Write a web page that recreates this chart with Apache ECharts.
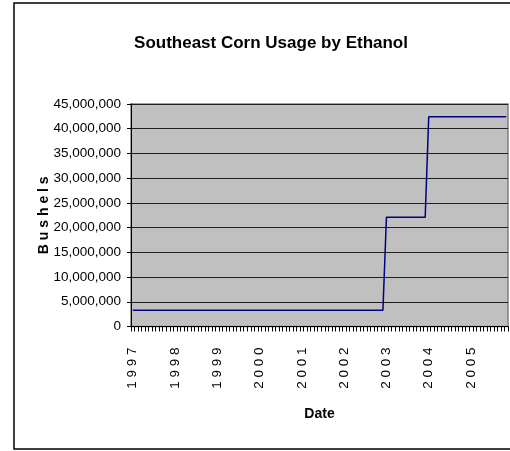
<!DOCTYPE html>
<html>
<head>
<meta charset="utf-8">
<script src="https://cdn.jsdelivr.net/npm/echarts@6/dist/echarts.min.js"></script>
<style>
html,body{margin:0;padding:0;background:#fff;}
#chart{width:510px;height:451px;}
</style>
</head>
<body>
<div id="chart"></div>
<script>
// Annual ethanol corn usage (bushels), shown as a monthly category axis
const years = [1997, 1998, 1999, 2000, 2001, 2002, 2003, 2004, 2005];
const annualUsage = [3300000, 3300000, 3300000, 3300000, 3300000, 3300000, 22100000, 42400000, 42400000];
const monthsShown = 107; // Jan 1997 .. Nov 2005 visible
const yTicks = [0, 5000000, 10000000, 15000000, 20000000, 25000000, 30000000, 35000000, 40000000, 45000000];

const categories = [];
const values = [];
for (let i = 0; i < years.length; i++) {
  for (let m = 1; m <= 12; m++) {
    if (categories.length >= monthsShown) break;
    categories.push(years[i] + '-' + (m < 10 ? '0' + m : m));
    values.push(annualUsage[i]);
  }
}

function fmt(v) {
  return String(v).replace(/\B(?=(\d{3})+(?!\d))/g, ',');
}

const FONT = "'Liberation Sans', Arial, sans-serif";
const chart = echarts.init(document.getElementById('chart'), null, {renderer: 'canvas'});
chart.setOption({
  animation: false,
  backgroundColor: '#ffffff',
  title: {
    text: 'Southeast Corn Usage by Ethanol',
    left: 266, top: 30, textAlign: 'center',
    textStyle: {fontFamily: FONT, fontSize: 17, fontWeight: 'bold', color: '#000'}
  },
  graphic: [{
    type: 'rect', silent: true, z: -1,
    shape: {x: 14, y: 3, width: 620, height: 446},
    style: {fill: null, stroke: '#000', lineWidth: 1.5}
  }],
  grid: {
    left: 131, top: 104, width: 377, height: 222.5,
    show: true, backgroundColor: '#C0C0C0', borderColor: '#808080', borderWidth: 1.5
  },
  xAxis: {
    type: 'category',
    data: categories,
    boundaryGap: true,
    name: 'Date',
    nameLocation: 'middle',
    nameGap: 81,
    nameMoveOverlap: false,
    nameTextStyle: {fontFamily: FONT, fontSize: 14, fontWeight: 'bold', color: '#000'},
    axisLine: {show: true, lineStyle: {color: '#000', width: 1}},
    axisTick: {show: true, interval: 0, length: 5, lineStyle: {color: '#000'}},
    axisLabel: {
      interval: function (idx) { return idx % 12 === 0; },
      rotate: 90, margin: 21,
      fontFamily: FONT, fontSize: 13.5, color: '#000',
      formatter: function (v) { return v.slice(0, 4).split('').join(' '); }
    },
    splitLine: {show: false}
  },
  yAxis: {
    type: 'value',
    min: yTicks[0], max: yTicks[yTicks.length - 1], interval: 5000000,
    name: 'B u s h e l s',
    nameLocation: 'middle',
    nameGap: 80,
    nameMoveOverlap: false,
    nameTextStyle: {fontFamily: FONT, fontSize: 14, fontWeight: 'bold', color: '#000'},
    axisLine: {show: true, lineStyle: {color: '#000', width: 1}},
    axisTick: {show: true, length: 4, lineStyle: {color: '#000'}},
    axisLabel: {
      margin: 10, fontFamily: FONT, fontSize: 13.5, color: '#000',
      formatter: function (v) { return fmt(v); }
    },
    splitLine: {show: true, lineStyle: {color: '#202020', width: 1}}
  },
  series: [{
    type: 'line',
    data: values,
    showSymbol: false,
    symbol: 'none',
    lineStyle: {color: '#000080', width: 1.5},
    itemStyle: {color: '#000080'}
  }]
});
</script>
</body>
</html>
